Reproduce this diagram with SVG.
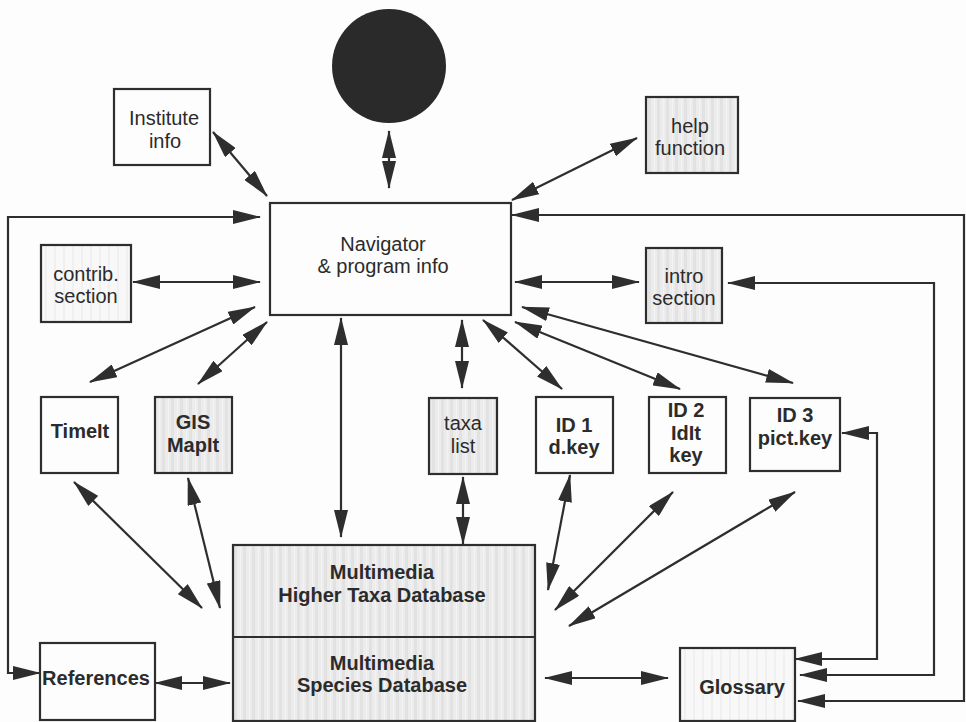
<svg xmlns="http://www.w3.org/2000/svg" width="966" height="722" viewBox="0 0 966 722">
<style>
  .bx{stroke:#2e2e2e;stroke-width:2.2;fill:#fdfdfd}
  .sh{fill:url(#stripes)}
  .lt{fill:url(#stripesLight)}
  .t{font-family:"Liberation Sans",Arial,Helvetica,sans-serif;font-size:20px;fill:#2b2b2b;text-anchor:middle}
  .b{font-weight:bold}
  .c{stroke:#2e2e2e;stroke-width:2.2;fill:none;marker-start:url(#ah);marker-end:url(#ah)}
  .e{stroke:#2e2e2e;stroke-width:2.2;fill:none;marker-end:url(#ah)}
</style>
<defs>
  <marker id="ah" markerUnits="userSpaceOnUse" markerWidth="28" markerHeight="14" refX="27" refY="7" orient="auto-start-reverse">
    <path d="M0,0 L28,7 L0,14 Z" fill="#2e2e2e"/>
  </marker>
  <pattern id="stripes" patternUnits="userSpaceOnUse" width="9" height="9">
    <rect width="9" height="9" fill="#ececec"/>
    <rect x="0" width="3" height="9" fill="#e2e2e2"/>
    <rect x="6" width="1" height="9" fill="#f3f3f3"/>
  </pattern>
  <pattern id="stripesLight" patternUnits="userSpaceOnUse" width="9" height="9">
    <rect width="9" height="9" fill="#f8f8f8"/>
    <rect x="0" width="2" height="9" fill="#f0f0f0"/>
  </pattern>
</defs>
<rect width="966" height="722" fill="#fdfdfd"/>

<g id="connectors">
  <line class="c" x1="389" y1="131" x2="389" y2="188"/>
  <line class="c" x1="213" y1="132" x2="267" y2="196"/>
  <line class="c" x1="637" y1="138" x2="512" y2="200"/>
  <path class="c" d="M260,217 L8,217 L8,673 L40,673"/>
  <path class="c" d="M512,215 L964,215 L964,701 L798,701"/>
  <path class="c" d="M728,283 L934,283 L934,675 L800,675"/>
  <path class="c" d="M842,433 L877,433 L877,659 L795,659"/>
  <line class="c" x1="133" y1="282" x2="260" y2="282"/>
  <line class="c" x1="515" y1="282" x2="639" y2="282"/>
  <line class="c" x1="255" y1="307" x2="90" y2="382"/>
  <line class="c" x1="267" y1="322" x2="198" y2="384"/>
  <line class="c" x1="341" y1="318" x2="341" y2="537"/>
  <line class="c" x1="462" y1="320" x2="462" y2="388"/>
  <line class="c" x1="463" y1="477" x2="463" y2="544"/>
  <line class="c" x1="483" y1="320" x2="562" y2="389"/>
  <line class="c" x1="515" y1="322" x2="680" y2="389"/>
  <line class="c" x1="522" y1="307" x2="793" y2="383"/>
  <line class="c" x1="74" y1="482" x2="202" y2="608"/>
  <line class="c" x1="188" y1="478" x2="220" y2="608"/>
  <line class="c" x1="570" y1="475" x2="548" y2="590"/>
  <line class="c" x1="673" y1="492" x2="555" y2="610"/>
  <line class="c" x1="795" y1="492" x2="569" y2="626"/>
  <line class="c" x1="545" y1="678" x2="668" y2="678"/>
  <line class="c" x1="155" y1="683" x2="230" y2="683"/>
</g>

<g id="start-circle">
  <circle cx="389" cy="66" r="57" fill="#2a2a2a"/>
</g>

<g id="institute-info">
  <rect class="bx" x="114" y="89" width="96" height="76"/>
  <text class="t" x="164" y="125">Institute</text>
  <text class="t" x="165" y="148">info</text>
</g>

<g id="help-function">
  <rect class="bx sh" x="646" y="97" width="92" height="76"/>
  <text class="t" x="690" y="133">help</text>
  <text class="t" x="690" y="155">function</text>
</g>

<g id="navigator">
  <rect class="bx" x="270" y="203" width="241" height="112"/>
  <text class="t" x="383" y="251">Navigator</text>
  <text class="t" x="383" y="273">&amp; program info</text>
</g>

<g id="contrib-section">
  <rect class="bx lt" x="41" y="245" width="90" height="77"/>
  <text class="t" x="86" y="281">contrib.</text>
  <text class="t" x="86" y="303">section</text>
</g>

<g id="intro-section">
  <rect class="bx sh" x="646" y="248" width="76" height="75"/>
  <text class="t" x="684" y="283">intro</text>
  <text class="t" x="684" y="305">section</text>
</g>

<g id="timeit">
  <rect class="bx" x="41" y="397" width="77" height="76"/>
  <text class="t b" x="80" y="438">TimeIt</text>
</g>

<g id="gis-mapit">
  <rect class="bx sh" x="155" y="397" width="77" height="76"/>
  <text class="t b" x="193" y="429">GIS</text>
  <text class="t b" x="193" y="452">MapIt</text>
</g>

<g id="taxa-list">
  <rect class="bx sh" x="429" y="398" width="68" height="76"/>
  <text class="t" x="463" y="430">taxa</text>
  <text class="t" x="463" y="453">list</text>
</g>

<g id="id1">
  <rect class="bx" x="536" y="397" width="77" height="76"/>
  <text class="t b" x="574" y="432">ID 1</text>
  <text class="t b" x="574" y="454">d.key</text>
</g>

<g id="id2">
  <rect class="bx" x="649" y="397" width="77" height="76"/>
  <text class="t b" x="686" y="417">ID 2</text>
  <text class="t b" x="686" y="440">IdIt</text>
  <text class="t b" x="686" y="462">key</text>
</g>

<g id="id3">
  <rect class="bx" x="750" y="398" width="90" height="73"/>
  <text class="t b" x="795" y="422">ID 3</text>
  <text class="t b" x="795" y="445">pict.key</text>
</g>

<g id="database">
  <rect class="bx sh" x="233" y="545" width="302" height="176"/>
  <line x1="233" y1="637" x2="535" y2="637" stroke="#2e2e2e" stroke-width="2.2"/>
  <text class="t b" x="382" y="579">Multimedia</text>
  <text class="t b" x="382" y="602">Higher Taxa Database</text>
  <text class="t b" x="382" y="670">Multimedia</text>
  <text class="t b" x="382" y="692">Species Database</text>
</g>

<g id="references">
  <rect class="bx" x="40" y="643" width="115" height="77"/>
  <text class="t b" x="96" y="685">References</text>
</g>

<g id="glossary">
  <rect class="bx lt" x="680" y="648" width="115" height="73"/>
  <text class="t b" x="742" y="694">Glossary</text>
</g>
</svg>
